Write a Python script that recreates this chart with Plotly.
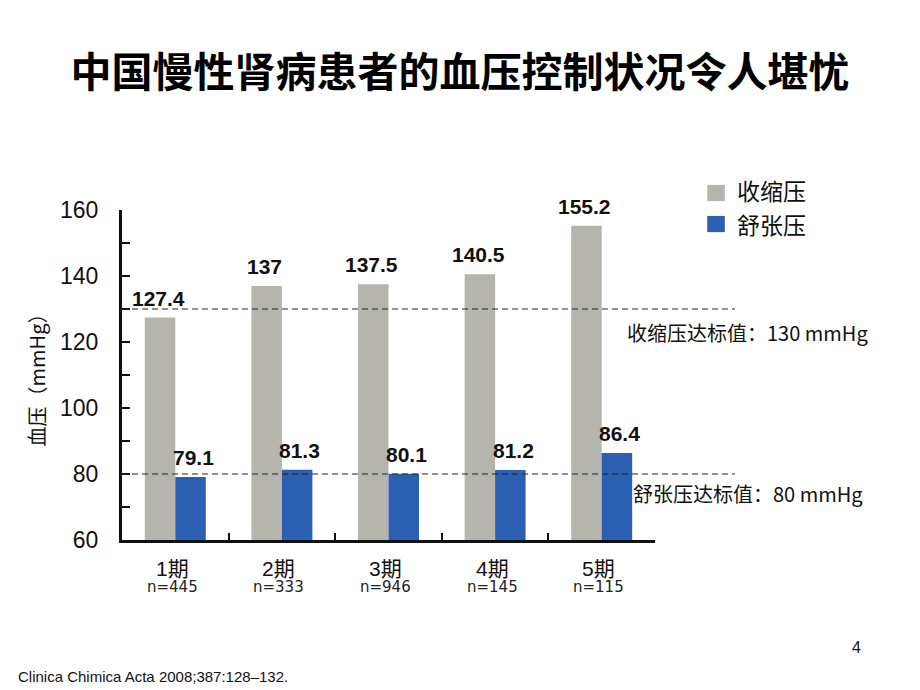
import plotly.graph_objects as go

categories = ["1期", "2期", "3期", "4期", "5期"]
sample_sizes = ["n=445", "n=333", "n=946", "n=145", "n=115"]
systolic = [127.4, 137, 137.5, 140.5, 155.2]
diastolic = [79.1, 81.3, 80.1, 81.2, 86.4]
systolic_target = 130
diastolic_target = 80
y_ticks = [60, 80, 100, 120, 140, 160]
series_names = ["收缩压", "舒张压"]

GREY = "#B5B5AE"
BLUE = "#2B5FB2"
LAT = "Arial, Liberation Sans, Noto Sans CJK SC, sans-serif"
CJK = "Noto Sans CJK SC, sans-serif"

fig = go.Figure()
fig.add_trace(go.Bar(x=categories, y=systolic, name=series_names[0], marker=dict(color=GREY, line=dict(width=0))))
fig.add_trace(go.Bar(x=categories, y=diastolic, name=series_names[1], marker=dict(color=BLUE, line=dict(width=0))))

# value labels and category labels
for i, c in enumerate(categories):
    fig.add_annotation(x=c, y=systolic[i], xref="x", yref="y", text=f"<b>{systolic[i]:g}</b>",
                       showarrow=False, yanchor="bottom", xshift=-17, yshift=6,
                       font=dict(family=LAT, size=21, color="#111"))
    fig.add_annotation(x=c, y=diastolic[i], xref="x", yref="y", text=f"<b>{diastolic[i]:g}</b>",
                       showarrow=False, yanchor="bottom", xshift=18, yshift=6,
                       font=dict(family=LAT, size=21, color="#111"))
    fig.add_annotation(x=c, y=0, xref="x", yref="paper", text=c, showarrow=False,
                       yanchor="middle", yshift=-28, xshift=-3,
                       font=dict(family=LAT, size=21, color="#111"))
    fig.add_annotation(x=c, y=0, xref="x", yref="paper", text=sample_sizes[i], showarrow=False,
                       yanchor="middle", yshift=-47, xshift=-3,
                       font=dict(family="DejaVu Sans, sans-serif", size=15, color="#222"))

# target lines
for val in (systolic_target, diastolic_target):
    fig.add_shape(type="line", xref="paper", yref="y", x0=0, x1=1.15, y0=val, y1=val,
                  line=dict(color="#222", width=1, dash="6px,4px"), layer="above")

fig.add_annotation(x=1.403, y=123.0, xref="paper", yref="y", xanchor="right",
                   text=f"收缩压达标值：{systolic_target} mmHg", showarrow=False,
                   font=dict(family=CJK, size=20, color="#111"))
fig.add_annotation(x=1.394, y=74.2, xref="paper", yref="y", xanchor="right",
                   text=f"舒张压达标值：{diastolic_target} mmHg", showarrow=False,
                   font=dict(family=CJK, size=20, color="#111"))

# custom legend
legend_colors = [GREY, BLUE]
legend_y = [(1.076, 1.027, 1.061), (0.982, 0.933, 0.958)]
for name, col, (yt, yb, yc) in zip(series_names, legend_colors, legend_y):
    fig.add_shape(type="rect", xref="paper", yref="paper", x0=1.098, x1=1.131, y0=yb, y1=yt,
                  fillcolor=col, line=dict(width=0))
    fig.add_annotation(x=1.150, y=yc, xref="paper", yref="paper", xanchor="left", yanchor="middle",
                       text=name, showarrow=False, font=dict(family=CJK, size=23, color="#111"))

# footnote and page number
fig.add_annotation(x=-0.199, y=-0.415, xref="paper", yref="paper", xanchor="left", yanchor="middle",
                   text="Clinica Chimica Acta 2008;387:128–132.", showarrow=False,
                   font=dict(family="Liberation Sans Narrow, Arial Narrow, Liberation Sans, sans-serif", size=15, color="#111"))
fig.add_annotation(x=1.378, y=-0.327, xref="paper", yref="paper", xanchor="center", yanchor="middle",
                   text="4", showarrow=False,
                   font=dict(family="Liberation Sans Narrow, Liberation Sans, sans-serif", size=16, color="#111"))

fig.update_layout(
    width=920, height=690,
    margin=dict(l=114, r=273, t=202, b=158),
    paper_bgcolor="white", plot_bgcolor="white",
    barmode="group", bargap=0.428, bargroupgap=0,
    showlegend=False,
    title=dict(text="<b>中国慢性肾病患者的血压控制状况令人堪忧</b>", x=(460 - 8) / 920, xanchor="center",
               y=1 - 65 / 690, yanchor="middle", font=dict(family=CJK, size=41, color="#000")),
    xaxis=dict(showgrid=False, showticklabels=False, ticks="inside", tickson="boundaries",
               ticklen=7, tickwidth=2, tickcolor="#111", showline=True, linecolor="#111",
               linewidth=3, zeroline=False, range=[-0.5, 4.5]),
    yaxis=dict(range=[60, 160], tickvals=y_ticks, showgrid=False, zeroline=False,
               ticks="inside", ticklen=8, tickwidth=2, tickcolor="#111",
               showline=True, linecolor="#111", linewidth=3, ticklabelstandoff=16,
               minor=dict(dtick=10, ticks="inside", ticklen=8, tickwidth=2, tickcolor="#111", showgrid=False),
               tickfont=dict(family=LAT, size=23, color="#111"),
               title=dict(text="血压（mmHg）", font=dict(family=CJK, size=20, color="#111"), standoff=10)),
)

fig.write_html("out.html")
